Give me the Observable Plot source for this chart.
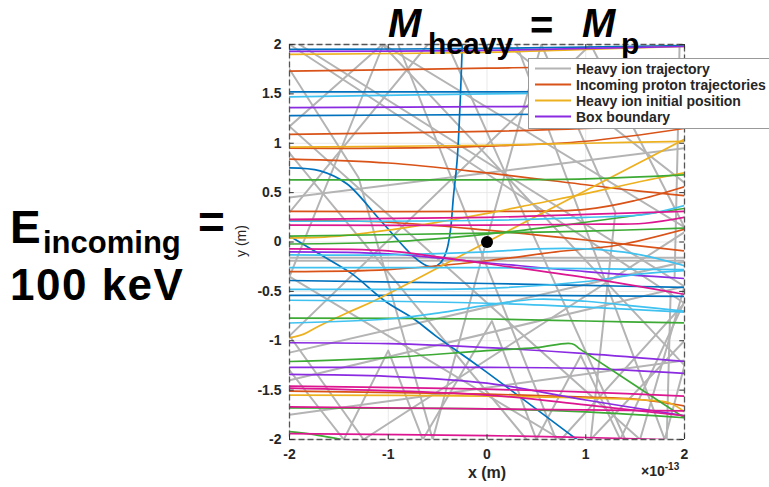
<!DOCTYPE html>
<html><head><meta charset="utf-8">
<script src="https://cdn.jsdelivr.net/npm/d3@7"></script>
<script src="https://cdn.jsdelivr.net/npm/@observablehq/plot@0.6"></script>
<style>
html,body{margin:0;padding:0;background:#fff;}
#wrap{position:relative;width:769px;height:487px;overflow:hidden;font-family:"Liberation Sans",Arial,sans-serif;}
#wrap svg{position:absolute;left:0;top:0;}
</style></head><body><div id="wrap"></div>
<script>
const xDomain = [-2, 2];
const yDomain = [-2, 2];
const xTicks = [-2, -1, 0, 1, 2];
const yTicks = [-2, -1.5, -1, -0.5, 0, 0.5, 1, 1.5, 2];
const yTickLabels = ["-2", "-1.5", "-1", "-0.5", "0", "0.5", "1", "1.5", "2"];
const xTickLabels = ["-2", "-1", "0", "1", "2"];
const legendLabels = ["Heavy ion trajectory", "Incoming proton trajectories", "Heavy ion initial position", "Box boundary"];
const initialPosition = [[0, 0]];

// heavy ion (gray) trajectory pieces
const grayTracks = [
  [[-2,2],[2,-0.62],[0.75,-2],[-2,-0.35],[-1.05,2],[2,0.15],[1.05,2],[-2,-0.95],[-1.25,-2],[2,0.1]],
  [[-1.9,2],[2,-0.45],[1.55,-2],[-2,1.17],[-1.06,2],[2,-1.25],[1.8,-2],[0.3,2]],
  [[-2,1.75],[-1.3,0.65],[-0.55,-2],[0.1,0.4],[0.55,2],[1.3,0.3],[1.05,-2],[2,-1.0]],
  [[-2,-1.3],[-1.45,-2],[-1.0,-1.1],[-0.65,-2],[0.05,-0.8],[0.5,-2],[0.95,-1.15],[1.35,-2],[2,-0.6]],
  [[-2,-1.12],[2,-0.2]],
  [[-2,-1.4],[2,-0.45]],
  [[-2,-1.75],[2,-1.2]],
  [[-2,0.45],[2,0.95]],
  [[-2,-0.16],[2,-0.16]],
  [[-2,-0.19],[2,-0.19]],
  [[1.95,2],[1.93,0.95],[1.9,-0.35]],
  [[1.86,-0.5],[1.82,-2]],
  [[-2,0.3],[-0.6,2]],
  [[-0.4,2],[1.4,-2]],
  [[0.2,2],[2,0.6]],
  [[-0.9,2],[0.7,-2]],
  [[-2,0.9],[0.4,-2]]
];

const blueTracks = [
  [[-2,1.95],[0,1.96],[2,1.99]],
  [[-2,1.52],[0,1.52],[2,1.53]],
  [[-2,1.28],[0,1.29],[2,1.30]],
  [[-2,-0.39],[0,-0.42],[1,-0.44],[2,-0.46]],
  [[-2,-0.54],[0,-0.54],[2,-0.55]],
  [[-2,0.75],[-1.69,0.72],[-1.42,0.59],[-1.08,0.22],[-0.74,-0.15],[-0.61,-0.24],[-0.54,-0.25],[-0.47,-0.21],[-0.41,-0.09],[-0.37,0.12],[-0.34,0.46],[-0.30,0.86],[-0.25,2.0]],
  [[-2,0.06],[-1.7,-0.12],[-1.37,-0.32],[-1.03,-0.60],[-0.74,-0.78],[-0.52,-0.95],[-0.07,-1.27],[0.91,-2]]
];
const orangeTracks = [
  [[-2,1.73],[0,1.76],[1,1.78],[2,1.82]],
  [[-2,1.09],[0,1.12],[1,1.15],[2,1.20]],
  [[-2,0.95],[-1,0.95],[0,0.97],[1,1.02],[2,1.15]],
  [[-2,0.84],[-1,0.80],[0,0.70],[1,0.58],[1.5,0.52],[2,0.47]],
  [[-2,0.31],[0,0.31],[1,0.33],[1.5,0.42],[2,0.56]],
  [[-2,0.22],[-1,0.20],[0,0.12],[1,0.02],[2,-0.09]],
  [[-2,-0.30],[-1,-0.28],[0,-0.19],[0.7,-0.10],[1.33,-0.03],[2,0.13]],
  [[-2,-1.51],[0,-1.54],[1,-1.57],[1.5,-1.59],[2,-1.66]]
];
const yellowTracks = [
  [[-2,1.90],[0,1.92],[1,1.95],[2,1.98]],
  [[-2,0.96],[0,0.98],[1,1.0],[2,1.02]],
  [[-2,0.04],[-1.5,0.06],[-1,0.12],[-0.5,0.2],[0,0.29],[0.5,0.39],[1,0.49],[1.5,0.6],[2,0.70]],
  [[-2,-0.97],[-1.85,-0.93],[-1.7,-0.85],[-1.4,-0.71],[-1.13,-0.59],[0,0],[2,1.04]],
  [[-2,-1.55],[0,-1.56],[1,-1.58],[1.6,-1.6],[1.85,-1.63],[2,-1.72]]
];
const purpleTracks = [
  [[-2,1.93],[0,1.94],[1,1.96],[2,1.98]],
  [[-2,1.36],[0,1.37],[2,1.38]],
  [[-2,-0.10],[-1,-0.12],[0,-0.21],[1,-0.30],[2,-0.37]],
  [[-2,-1.02],[-1,-1.03],[0,-1.07],[1,-1.13],[2,-1.21]],
  [[-2,-1.27],[0,-1.27],[1,-1.28],[2,-1.33]],
  [[-2,-1.34],[-1,-1.36],[0,-1.43],[1,-1.6],[2,-1.76]]
];
const greenTracks = [
  [[-2,0.63],[0,0.63],[1,0.64],[2,0.68]],
  [[-2,0.06],[0,0.09],[1,0.11],[2,0.14]],
  [[-2,-0.02],[-1,0.0],[0,0.08],[1,0.2],[2,0.34]],
  [[-2,-0.77],[0,-0.78],[1,-0.80],[2,-0.82]],
  [[-2,-1.21],[-1,-1.17],[0,-1.10],[0.5,-1.07],[0.86,-1.03],[0.95,-1.09],[2,-1.78]],
  [[-2,-1.68],[0,-1.69],[1,-1.72],[2,-1.78]],
  [[-2,-1.92],[-1.75,-1.95],[-1.47,-2]]
];
const cyanTracks = [
  [[-2,1.47],[0,1.50],[1,1.51],[2,1.53]],
  [[-2,0.21],[0,0.22],[1,0.25],[1.6,0.28],[2,0.37]],
  [[-2,-0.13],[-1,-0.13],[0,-0.10],[0.5,-0.07],[1,-0.07],[1.5,-0.12],[2,-0.24]],
  [[-2,-0.26],[0,-0.26],[1,-0.27],[2,-0.28]],
  [[-2,-0.48],[-1,-0.48],[0,-0.47],[1,-0.40],[1.5,-0.33],[2,-0.29]],
  [[-2,-0.59],[-1,-0.60],[0,-0.62],[1,-0.66],[2,-0.71]],
  [[-2,-0.82],[-1,-0.78],[-0.5,-0.72],[0,-0.64],[0.5,-0.58],[1,-0.6],[1.5,-0.65],[2,-0.70]]
];
const magentaTracks = [
  [[-2,0.23],[0,0.25],[1,0.28],[2,0.31]],
  [[-2,0.17],[0,0.17],[1,0.18],[1.6,0.19],[2,0.25]],
  [[-2,-0.07],[-1,-0.09],[-0.5,-0.15],[0,-0.22],[1,-0.36],[2,-0.53]],
  [[-2,-1.46],[0,-1.49],[1,-1.52],[2,-1.56]],
  [[-2,-1.48],[0,-1.55],[1,-1.65],[2,-1.76]],
  [[-2,-1.67],[0,-1.69],[1,-1.70],[2,-1.71]],
  [[-2,-1.94],[0,-1.96],[1,-1.98],[1.8,-2.0]]
];

const C = {gray:"#b4b4b4", blue:"#0072BD", orange:"#D95319", yellow:"#EDB120", purple:"#8A2BE2", green:"#3DAA35", cyan:"#40C2F0", magenta:"#DC1590"};

const rows = (tracks, name) => tracks.flatMap((t, i) => t.map(([x, y]) => ({x, y, id: name + i})));
const lineMark = (tracks, name, color, w, curve) =>
  Plot.line(rows(tracks, name), {x: "x", y: "y", z: "id", stroke: color, strokeWidth: w, curve, clip: true});

const tlx = (xDomain[1] - xDomain[0]) * 0.012;
const tly = (yDomain[1] - yDomain[0]) * 0.012;

const chart = Plot.plot({
  width: 769, height: 487,
  marginLeft: 289, marginRight: 85, marginTop: 44, marginBottom: 48,
  x: {domain: xDomain},
  y: {domain: yDomain},
  style: {fontFamily: "'Liberation Sans', Arial, sans-serif", fontSize: "14px", fontWeight: "bold", color: "#262626", background: "transparent"},
  marks: [
    Plot.ruleX(xTicks, {x: d => d, stroke: "#e9e9e9", strokeWidth: 1}),
    Plot.ruleY(yTicks, {y: d => d, stroke: "#e9e9e9", strokeWidth: 1}),
    lineMark(grayTracks, "g", C.gray, 2, "linear"),
    lineMark(blueTracks, "b", C.blue, 1.7, "catmull-rom"),
    lineMark(orangeTracks, "o", C.orange, 1.7, "catmull-rom"),
    lineMark(yellowTracks, "y", C.yellow, 1.7, "catmull-rom"),
    lineMark(purpleTracks, "p", C.purple, 1.7, "catmull-rom"),
    lineMark(greenTracks, "gr", C.green, 1.7, "catmull-rom"),
    lineMark(cyanTracks, "c", C.cyan, 1.7, "catmull-rom"),
    lineMark(magentaTracks, "m", C.magenta, 1.7, "catmull-rom"),
    Plot.dot(initialPosition, {x: d => d[0], y: d => d[1], r: 6, fill: "#000", stroke: "none"}),
    Plot.frame({stroke: "#555", strokeDasharray: "6,3", strokeWidth: 1.3}),
    Plot.ruleX(xTicks, {x: d => d, y1: yDomain[0], y2: yDomain[0] + tly, stroke: "#333"}),
    Plot.ruleX(xTicks, {x: d => d, y1: yDomain[1], y2: yDomain[1] - tly, stroke: "#333"}),
    Plot.ruleY(yTicks, {y: d => d, x1: xDomain[0], x2: xDomain[0] + tlx, stroke: "#333"}),
    Plot.ruleY(yTicks, {y: d => d, x1: xDomain[1], x2: xDomain[1] - tlx, stroke: "#333"}),
    Plot.axisX(xTicks, {tickSize: 0, tickPadding: 10, label: null, tickFormat: (d, i) => xTickLabels[i], fill: "#262626"}),
    Plot.axisY(yTicks, {tickSize: 0, tickPadding: 8, label: null, tickFormat: (d, i) => yTickLabels[i], fill: "#262626"})
  ]
});
const wrap = document.getElementById("wrap");
wrap.appendChild(chart);

// overlay: titles, axis labels, legend
const ov = d3.select(wrap).append("svg").attr("width", 769).attr("height", 487)
  .style("font-family", "'Liberation Sans', Arial, sans-serif");

const t = (x, y, s, size, opts = {}) => ov.append("text").attr("x", x).attr("y", y).text(s)
  .attr("font-size", size).attr("font-weight", opts.weight || "bold").attr("font-style", opts.style || "normal")
  .attr("fill", opts.fill || "#000").attr("text-anchor", opts.anchor || "start")
  .attr("letter-spacing", opts.ls || 0);

// title
t(388, 37, "M", 40, {style: "italic"});
t(428, 54, "heavy", 30);
t(530, 39, "=", 40);
t(582, 37, "M", 40, {style: "italic"});
t(621, 54, "p", 30);

// left annotation
t(10, 243, "E", 46);
t(43, 253, "incoming", 31);
t(198, 238, "=", 46);
t(10, 300, "100 keV", 44, {ls: 1.5});

// axis labels
t(487, 478, "x (m)", 16, {fill: "#262626", anchor: "middle"});
const mult = t(641, 476, "×10", 14, {fill: "#262626"});
mult.append("tspan").attr("dy", -6).attr("font-size", 10).text("-13");
ov.append("text").attr("transform", "translate(246,241) rotate(-90)").attr("text-anchor", "middle")
  .attr("font-size", 14).attr("fill", "#262626").text("y (m)");

// legend
const legendColors = [C.gray, C.orange, C.yellow, C.purple];
ov.append("rect").attr("x", 528.5).attr("y", 58.5).attr("width", 250).attr("height", 70)
  .attr("fill", "#fff").attr("stroke", "#999").attr("stroke-width", 1);
legendLabels.forEach((lab, i) => {
  const cy = 68.5 + i * 16;
  ov.append("line").attr("x1", 535).attr("x2", 571).attr("y1", cy).attr("y2", cy)
    .attr("stroke", legendColors[i]).attr("stroke-width", 2);
  t(576, cy + 5, lab, 14, {fill: "#262626"});
});
</script></body></html>
